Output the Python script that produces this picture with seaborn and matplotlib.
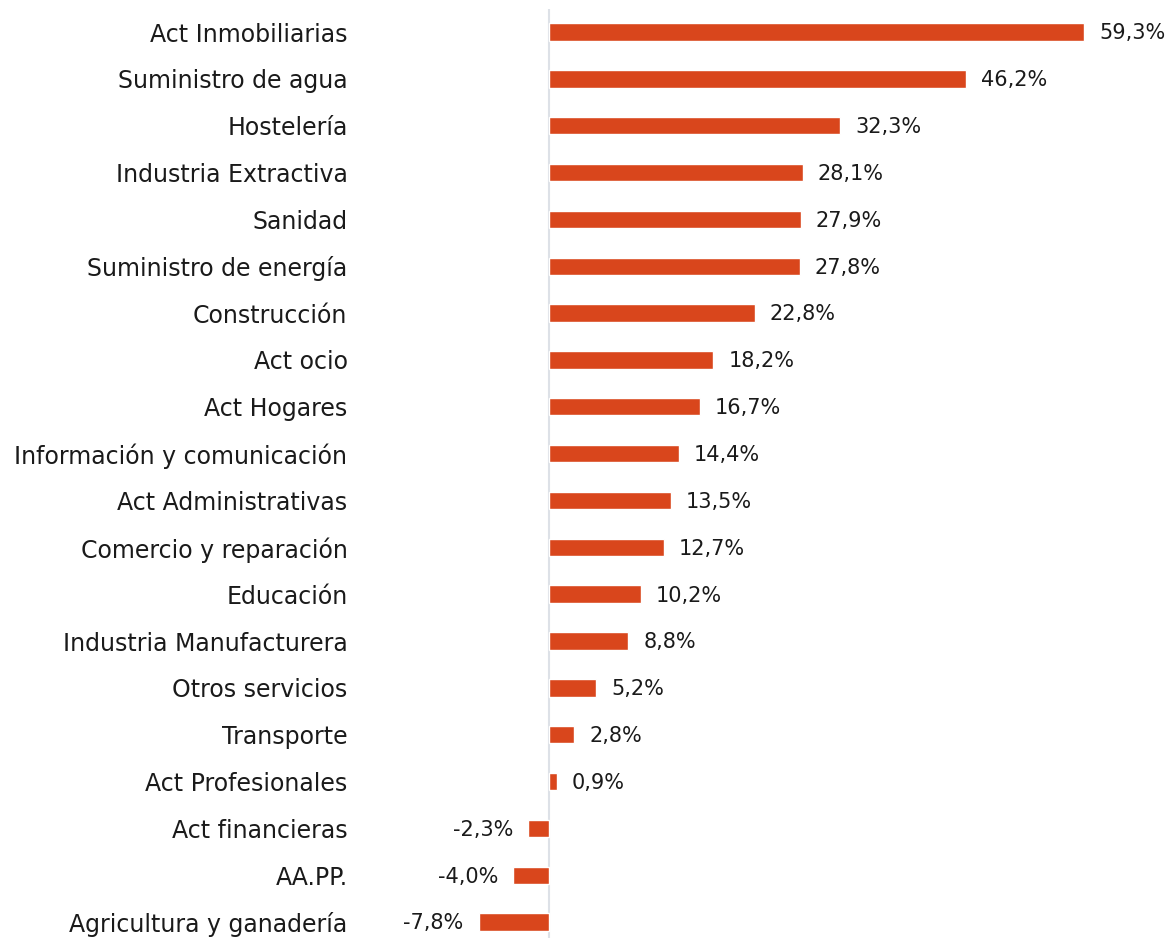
import matplotlib
matplotlib.use("Agg")
import matplotlib.pyplot as plt
import seaborn as sns
import pandas as pd

categories = ["Act Inmobiliarias", "Suministro de agua", "Hostelería", "Industria Extractiva",
              "Sanidad", "Suministro de energía", "Construcción", "Act ocio", "Act Hogares",
              "Información y comunicación", "Act Administrativas", "Comercio y reparación",
              "Educación", "Industria Manufacturera", "Otros servicios", "Transporte",
              "Act Profesionales", "Act financieras", "AA.PP.", "Agricultura y ganadería"]
values = [59.3, 46.2, 32.3, 28.1, 27.9, 27.8, 22.8, 18.2, 16.7, 14.4, 13.5, 12.7,
          10.2, 8.8, 5.2, 2.8, 0.9, -2.3, -4.0, -7.8]

df = pd.DataFrame({"cat": categories, "val": values})

sns.set_theme(style="white")
plt.rcParams['font.family'] = ['DejaVu Sans']

W, H = 1167, 938
fig = plt.figure(figsize=(W / 100, H / 100), dpi=100)
ax = fig.add_axes([360 / W, 0, (1160 - 360) / W, 1 - 8.6 / H])

color = "#D9461C"
sns.barplot(data=df, x="val", y="cat", orient="h", color=color, width=0.37,
            saturation=1, ax=ax)

px_per_unit = (1084 - 549) / 59.3
xmin = -(549 - 360) / px_per_unit
xmax = (1160 - 549) / px_per_unit
ax.set_xlim(xmin, xmax)
ax.set_ylim(19.34, -0.5)

for s in ax.spines.values():
    s.set_visible(False)
ax.axvline(0, color="#DDE1E7", lw=1.5, zorder=0)
ax.set_xticks([])
ax.set_xlabel("")
ax.set_ylabel("")
ax.tick_params(axis="y", length=0, pad=9, labelsize=17, labelcolor="#1a1a1a")

off = 15 / px_per_unit
for i, v in enumerate(values):
    txt = f"{v:.1f}%".replace(".", ",")
    if v >= 0:
        ax.text(v + off, i + 0.03, txt, va="center", ha="left", fontsize=15, color="#1a1a1a")
    else:
        ax.text(v - off, i + 0.03, txt, va="center", ha="right", fontsize=15, color="#1a1a1a")

fig.savefig("out.png", dpi=100)
